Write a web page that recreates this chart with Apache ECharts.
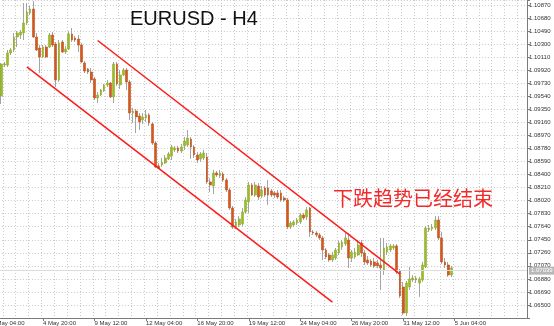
<!DOCTYPE html>
<html>
<head>
<meta charset="utf-8">
<script src="https://cdn.jsdelivr.net/npm/echarts@6/dist/echarts.min.js"></script>
<style>
  html, body { margin: 0; padding: 0; background: #ffffff; }
  #chart { width: 554px; height: 326px; }
</style>
</head>
<body>
<div id="chart"></div>
<script>
// EURUSD, 4-hour bars. First bar in the window is 2 May 04:00; data starts at bar 3.
const firstBarTime = Date.UTC(2023, 4, 2, 4);
const barCount = 167;          // slots on the time axis (includes empty space on the right)
const dataStart = 3;           // index of the first candle with prices
const labelEvery = 16;         // a date label every 16 bars
const lastLabelIndex = 144;    // 5 Jun 04:00

const opens = [
  1.09545,1.09996,1.09996,1.10171,1.10215,1.10404,1.10433,1.10462,1.10608,1.10753,
  1.10812,1.10404,1.10243,1.10113,1.10258,1.10258,1.10433,1.10302,1.09778,1.10331,
  1.10186,1.10229,1.10448,1.10389,1.10375,1.10287,1.10025,1.09938,1.09894,1.09792,
  1.09515,1.09559,1.09617,1.09705,1.09734,1.09530,1.10011,1.09705,1.09850,1.09923,
  1.09749,1.09297,1.09326,1.09253,1.09195,1.09224,1.09268,1.09137,1.08860,1.08525,
  1.08539,1.08568,1.08627,1.08671,1.08758,1.08787,1.08743,1.08817,1.08831,1.08918,
  1.08802,1.08685,1.08627,1.08641,1.08656,1.08292,1.08233,1.08423,1.08379,1.08409,
  1.08321,1.08175,1.07913,1.07636,1.07665,1.07680,1.07855,1.08001,1.08248,1.08102,
  1.08233,1.08088,1.08204,1.08204,1.08160,1.08131,1.08131,1.08131,1.08058,1.08030,
  1.07636,1.07665,1.07694,1.07709,1.07811,1.07782,1.07913,1.07564,1.07549,1.07520,
  1.07476,1.07301,1.07228,1.07156,1.07184,1.07257,1.07345,1.07389,1.07447,1.07184,
  1.07199,1.07228,1.07403,1.07257,1.07156,1.07141,1.07127,1.07112,1.07083,1.07010,
  1.07272,1.07301,1.07330,1.07360,1.06995,1.06762,1.06383,1.06762,1.06864,1.06864,
  1.06820,1.06864,1.07054,1.07593,1.07607,1.07621,1.07738,1.07476,1.07127,1.07083,
  1.06937
];
const closes = [
  1.10011,1.10011,1.10171,1.10215,1.10404,1.10462,1.10477,1.10608,1.10768,1.10812,
  1.10404,1.10215,1.10113,1.10258,1.10113,1.10433,1.10287,1.09778,1.10316,1.10186,
  1.10229,1.10448,1.10360,1.10360,1.10287,1.10040,1.09908,1.09894,1.09778,1.09515,
  1.09559,1.09632,1.09705,1.09734,1.09530,1.10011,1.09720,1.09850,1.09923,1.09749,
  1.09297,1.09326,1.09239,1.09166,1.09239,1.09268,1.09151,1.08860,1.08510,1.08495,
  1.08583,1.08641,1.08700,1.08802,1.08787,1.08743,1.08802,1.08889,1.08932,1.08802,
  1.08685,1.08612,1.08700,1.08714,1.08292,1.08248,1.08423,1.08394,1.08423,1.08321,
  1.08175,1.07913,1.07636,1.07709,1.07753,1.07855,1.08030,1.08248,1.08102,1.08248,
  1.08073,1.08175,1.08102,1.08102,1.08102,1.08102,1.08073,1.08030,1.08030,1.07636,
  1.07694,1.07709,1.07738,1.07811,1.07767,1.07884,1.07564,1.07549,1.07520,1.07476,
  1.07301,1.07199,1.07156,1.07228,1.07301,1.07403,1.07418,1.07476,1.07184,1.07272,
  1.07272,1.07374,1.07257,1.07127,1.07112,1.07083,1.07068,1.07068,1.07039,1.07330,
  1.07345,1.07360,1.07360,1.06981,1.06631,1.06383,1.06820,1.06879,1.06893,1.06893,
  1.06879,1.07083,1.07621,1.07621,1.07636,1.07738,1.07476,1.07127,1.07083,1.06937,
  1.07039
];
const lows = [
  1.09428,1.09967,1.09967,1.10142,1.10186,1.10258,1.10375,1.10360,1.10579,1.10724,
  1.10389,1.10200,1.09879,1.10098,1.10098,1.10243,1.10258,1.09676,1.09749,1.10171,
  1.10157,1.10215,1.10331,1.10331,1.10186,1.10025,1.09879,1.09865,1.09734,1.09486,
  1.09442,1.09545,1.09603,1.09676,1.09515,1.09442,1.09690,1.09647,1.09836,1.09632,
  1.09195,1.09151,1.09005,1.09049,1.09137,1.09166,1.09108,1.08831,1.08495,1.08481,
  1.08510,1.08554,1.08612,1.08612,1.08729,1.08714,1.08714,1.08758,1.08802,1.08627,
  1.08641,1.08568,1.08583,1.08612,1.08263,1.08146,1.08117,1.08365,1.08350,1.08292,
  1.08146,1.07884,1.07607,1.07607,1.07636,1.07651,1.07826,1.07840,1.08088,1.08073,
  1.08030,1.08058,1.08073,1.07957,1.08073,1.08058,1.08044,1.08001,1.08001,1.07607,
  1.07607,1.07636,1.07665,1.07680,1.07738,1.07738,1.07491,1.07520,1.07491,1.07447,
  1.07156,1.07170,1.07127,1.07127,1.07156,1.07228,1.07301,1.07360,1.07039,1.07127,
  1.07170,1.07214,1.07199,1.07083,1.07083,1.07054,1.07039,1.07039,1.06719,1.06937,
  1.07228,1.07272,1.07301,1.06952,1.06602,1.06354,1.06339,1.06719,1.06835,1.06820,
  1.06617,1.06835,1.07039,1.07564,1.07578,1.07593,1.07447,1.07098,1.07039,1.06908,
  1.06908
];
const highs = [
  1.10025,1.10040,1.10215,1.10243,1.10462,1.10491,1.10506,1.10899,1.10899,1.10856,
  1.10928,1.10462,1.10287,1.10287,1.10287,1.10462,1.10477,1.10331,1.10360,1.10360,
  1.10273,1.10491,1.10535,1.10418,1.10433,1.10316,1.10054,1.09952,1.09952,1.09821,
  1.09603,1.09646,1.09720,1.09778,1.09749,1.10040,1.10040,1.09923,1.09952,1.09952,
  1.09778,1.09370,1.09355,1.09297,1.09297,1.09341,1.09297,1.09166,1.08889,1.08568,
  1.08641,1.08685,1.08729,1.08831,1.08817,1.08817,1.08846,1.08947,1.09049,1.08947,
  1.08831,1.08729,1.08729,1.08758,1.08714,1.08350,1.08467,1.08452,1.08467,1.08438,
  1.08350,1.08204,1.07942,1.07753,1.07796,1.07913,1.08073,1.08292,1.08277,1.08292,
  1.08277,1.08233,1.08233,1.08321,1.08190,1.08160,1.08175,1.08175,1.08088,1.08058,
  1.07723,1.07738,1.07767,1.07840,1.07840,1.07927,1.07927,1.07593,1.07578,1.07549,
  1.07506,1.07330,1.07257,1.07272,1.07330,1.07432,1.07447,1.07549,1.07549,1.07301,
  1.07330,1.07447,1.07447,1.07301,1.07214,1.07170,1.07184,1.07156,1.07476,1.07476,
  1.07403,1.07389,1.07389,1.07389,1.07025,1.06835,1.06849,1.07054,1.06937,1.06922,
  1.06908,1.07127,1.07651,1.07665,1.07680,1.07796,1.07796,1.07564,1.07184,1.07127,
  1.07068
];

// Price scale: labels every 0.0019 starting at 1.06500
const priceMin = 1.06310;
const priceMax = 1.10943;
const priceStep = 0.0019;
const firstLabelPrice = 1.06500;

// Hand-drawn channel: [bar index, price] end points
const upperChannel = [[33, 1.10353], [127, 1.06949]];
const lowerChannel = [[11, 1.09968], [106, 1.06541]];

const titleText = 'EURUSD - H4';
const noteText = '下跌趋势已经结束';

// ---- build axis categories (4h bars, weekdays only) ----
const monthNames = ['Jan','Feb','Mar','Apr','May','Jun','Jul','Aug','Sep','Oct','Nov','Dec'];
function pad2(n) { return (n < 10 ? '0' : '') + n; }
const categories = [];
for (let t = firstBarTime; categories.length < barCount; t += 4 * 3600 * 1000) {
  const d = new Date(t);
  const wd = d.getUTCDay();
  if (wd === 0 || wd === 6) continue;
  categories.push(d.getUTCDate() + ' ' + monthNames[d.getUTCMonth()] + ' ' + pad2(d.getUTCHours()) + ':00');
}

const fullData = [];
const bodyData = [];
for (let i = 0; i < barCount; i++) {
  const k = i - dataStart;
  if (k >= 0 && k < opens.length) {
    const o = opens[k], c = closes[k];
    fullData.push([o, c, lows[k], highs[k]]);
    bodyData.push([o, c, Math.min(o, c), Math.max(o, c)]);
  } else {
    fullData.push('-');
    bodyData.push('-');
  }
}
const lastClose = closes[closes.length - 1];

const chart = echarts.init(document.getElementById('chart'), null, { renderer: 'canvas' });

const showDateLabel = function (index) { return index % labelEvery === 0 && index <= lastLabelIndex; };
const gridLine = { show: true, lineStyle: { color: '#c9c9c9', type: [1, 2], width: 1 } };

chart.setOption({
  animation: false,
  backgroundColor: '#ffffff',
  grid: { left: -10.1, right: 27, top: 0, bottom: 8, containLabel: false, outerBoundsMode: 'none' },
  xAxis: {
    type: 'category',
    data: categories,
    boundaryGap: true,
    axisLine: { show: true, lineStyle: { color: '#7a7a7a', width: 1 } },
    axisTick: { show: true, alignWithLabel: true, interval: showDateLabel, length: 3, lineStyle: { color: '#7a7a7a' } },
    axisLabel: {
      show: true, interval: showDateLabel, align: 'left', margin: 2,
      fontSize: 6, color: '#333333', fontFamily: 'Liberation Sans'
    },
    splitLine: Object.assign({ interval: 3 }, gridLine)
  },
  yAxis: {
    type: 'value',
    position: 'right',
    min: priceMin,
    max: priceMax,
    interval: priceStep,
    scale: true,
    axisLine: { show: true, lineStyle: { color: '#7a7a7a', width: 1 } },
    axisTick: { show: true, length: 3, lineStyle: { color: '#7a7a7a' } },
    axisLabel: {
      show: true, margin: 2, fontSize: 6, color: '#333333', fontFamily: 'Liberation Sans',
      formatter: function (v) {
        const steps = (v - firstLabelPrice) / priceStep;
        if (Math.abs(steps - Math.round(steps)) > 0.01 || steps < -0.01) return '';
        return v.toFixed(5);
      }
    },
    splitLine: gridLine
  },
  series: [
    {
      name: 'range',
      type: 'candlestick',
      data: fullData,
      barWidth: 0.6,
      z: 2,
      itemStyle: {
        color: '#a4a4a4', color0: '#a4a4a4',
        borderColor: '#a4a4a4', borderColor0: '#a4a4a4', borderWidth: 1
      },
      markLine: {
        silent: true,
        symbol: ['none', 'none'],
        label: {
          show: true, position: 'end', distance: 2,
          formatter: function () { return lastClose.toFixed(5); },
          backgroundColor: '#b8b8b8', color: '#ffffff', fontSize: 6,
          fontFamily: 'Liberation Sans', padding: [1, 2, 1, 2]
        },
        lineStyle: { color: '#dcdcdc', width: 1, type: 'solid' },
        data: [{ yAxis: lastClose }]
      }
    },
    {
      name: 'body',
      type: 'candlestick',
      data: bodyData,
      barWidth: 2.2,
      z: 3,
      itemStyle: {
        color: '#9cbb2c', color0: '#d2591e',
        borderColor: '#8fae22', borderColor0: '#c44f18', borderWidth: 0.6
      },
      markLine: {
        silent: true,
        symbol: ['none', 'none'],
        label: { show: false },
        lineStyle: { color: '#ff1a1a', width: 1.5, type: 'solid' },
        data: [
          [{ coord: upperChannel[0] }, { coord: upperChannel[1] }],
          [{ coord: lowerChannel[0] }, { coord: lowerChannel[1] }]
        ]
      }
    }
  ],
  graphic: [
    {
      type: 'text', left: 130, top: 9, z: 10,
      style: { text: titleText, fill: '#111111', font: '20px "Liberation Sans", Arial, sans-serif' }
    },
    {
      type: 'text', left: 333, top: 188, z: 10,
      style: { text: noteText, fill: '#f22a2a', font: '20px "Noto Sans CJK SC", sans-serif' }
    }
  ]
});
</script>
</body>
</html>
